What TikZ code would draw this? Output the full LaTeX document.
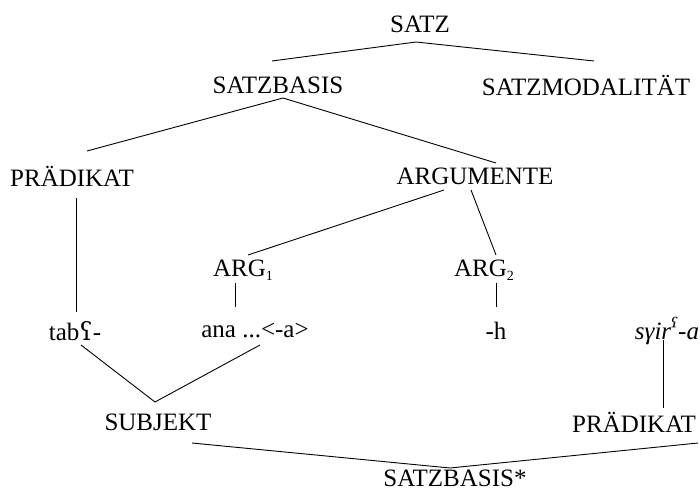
\documentclass[tikz,border=0pt]{standalone}
\usepackage{fontspec}
\setmainfont{Liberation Serif}
\newfontfamily\ipafont{DejaVu Serif}
\usetikzlibrary{calc}
\begin{document}
\begin{tikzpicture}[x=1pt,y=-1pt,
  lbl/.style={inner sep=0pt,anchor=center,font=\fontsize{25}{30}\selectfont},
  edge/.style={line width=0.9pt,black}]
\useasboundingbox[fill=white] (0,0) rectangle (700,492);
% nodes
\node[lbl] (satz) at (420,24) {SATZ};
\node[lbl] (sbasis) at (278,85) {SATZBASIS};
\node[lbl] (smod) at (586,85) {SATZMODALITÄT};
\node[lbl] (praed) at (72,176) {PRÄDIKAT};
\node[lbl] (argu) at (475,176) {ARGUMENTE};
\node[lbl] (arg1) at (243,270) {ARG\raisebox{-0.35ex}{\fontsize{14}{14}\selectfont 1}};
\node[lbl] (arg2) at (484,270) {ARG\raisebox{-0.35ex}{\fontsize{14}{14}\selectfont 2}};
\node[lbl] (tab) at (75,331) {tab{\ipafont ʕ}-};
\node[lbl] (ana) at (255,331) {ana ...<-a>};
\node[lbl] (h) at (496,331) {-h};
\node[lbl] (syir) at (667,331) {\itshape sγir{\ipafont\raisebox{0.3ex}{ˤ}}-a};
\node[lbl] (subj) at (158,422) {SUBJEKT};
\node[lbl] (praed2) at (634,422) {PRÄDIKAT};
\node[lbl] (sbstar) at (455,478) {SATZBASIS*};
% connectors
\draw[edge] ($(sbasis)+(-6,-24)$) -- ($(satz)+(-4,18)$) -- ($(smod)+(8,-24)$);
\draw[edge] ($(praed)+(15,-25)$) -- ($(sbasis)+(5,13)$) -- ($(argu)+(21,-13)$);
\draw[edge] ($(argu)+(-31,14)$) -- ($(arg1)+(5,-15)$);
\draw[edge] ($(argu)+(-4,14)$) -- ($(arg2)+(12,-15)$);
\draw[edge] ($(praed)+(4,22)$) -- ($(tab)+(1,-19)$);
\draw[edge] ($(arg1)+(-8,13)$) -- ($(ana)+(-20,-24)$);
\draw[edge] ($(arg2)+(12,13)$) -- ($(h)+(0,-24)$);
\draw[edge] ($(tab)+(6,14)$) -- ($(subj)+(-3,-20)$) -- ($(ana)+(5,14)$);
\draw[edge] ($(syir)+(-4,9)$) -- ($(praed2)+(29,-14)$);
\draw[edge] ($(subj)+(34,21)$) -- ($(sbstar)+(-5,-10)$) -- ($(praed2)+(64,21)$);
\end{tikzpicture}
\end{document}
